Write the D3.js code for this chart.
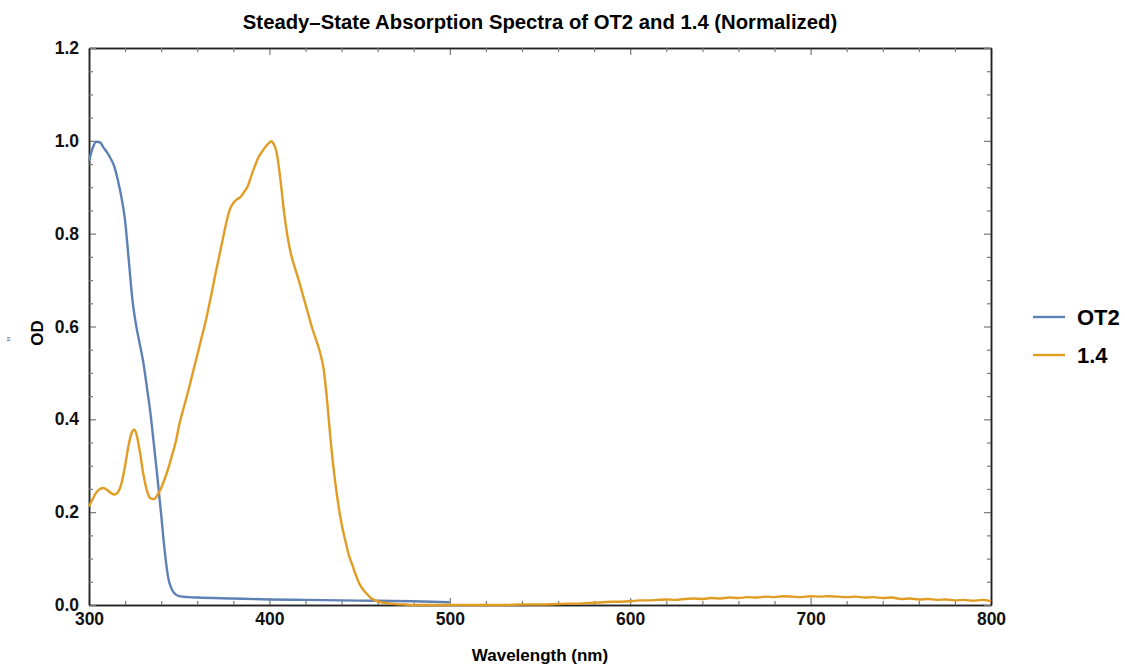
<!DOCTYPE html>
<html>
<head>
<meta charset="utf-8">
<script src="https://cdn.jsdelivr.net/npm/d3@7"></script>
<style>
  body { margin: 0; background: #fff; }
  svg { font-family: 'Liberation Sans', Arial, sans-serif; }
</style>
</head>
<body>
<div id="chart-area"></div>
<script>
// OT2 spectrum (nm, normalized OD)
const ot2Wavelength = [300, 302, 304, 306, 308, 310, 312, 314, 316, 318, 320, 322, 324, 326, 328, 330,
  332, 334, 336, 338, 340, 342, 344, 346, 348, 350, 355, 360, 380, 400, 420, 440, 460, 480, 500];
const ot2OD = [0.956, 0.984, 0.998, 0.997, 0.986, 0.975, 0.962, 0.945, 0.915, 0.878, 0.828, 0.745, 0.66,
  0.605, 0.565, 0.525, 0.472, 0.415, 0.345, 0.272, 0.195, 0.115, 0.057, 0.033, 0.023, 0.019, 0.017,
  0.016, 0.014, 0.012, 0.011, 0.010, 0.009, 0.008, 0.006];

// 1.4 spectrum (nm, normalized OD)
const c14Wavelength = [300, 302, 304, 306, 308, 310, 312, 314, 316, 318, 320, 322, 324, 325, 326, 328,
  330, 332, 334, 336, 338, 340, 342, 344, 346, 348, 350, 352, 354, 356, 358, 360, 362, 364, 366, 368,
  370, 372, 374, 376, 378, 380, 382, 384, 386, 388, 390, 392, 394, 396, 398, 400, 401, 402, 403, 404,
  406, 408, 410, 412, 414, 416, 418, 420, 422, 424, 426, 428, 430, 432, 434, 436, 438, 440, 442, 444,
  446, 448, 450, 452, 454, 456, 458, 460, 465, 470, 475, 480, 490, 500, 510, 520, 530, 540, 550, 560,
  565, 570, 575, 580, 585, 590, 595, 600, 605, 610, 615, 620, 625, 630, 635, 640, 645, 650, 655, 660,
  665, 670, 675, 680, 685, 690, 695, 700, 705, 710, 715, 720, 725, 730, 735, 740, 745, 750, 755, 760,
  765, 770, 775, 780, 785, 790, 795, 800];
const c14OD = [0.212, 0.228, 0.242, 0.250, 0.252, 0.248, 0.242, 0.238, 0.243, 0.262, 0.300, 0.345,
  0.374, 0.378, 0.372, 0.335, 0.285, 0.248, 0.230, 0.228, 0.237, 0.252, 0.272, 0.295, 0.322, 0.350,
  0.388, 0.418, 0.446, 0.476, 0.508, 0.538, 0.570, 0.600, 0.635, 0.672, 0.712, 0.748, 0.785, 0.822,
  0.852, 0.866, 0.874, 0.879, 0.890, 0.902, 0.925, 0.946, 0.965, 0.977, 0.988, 0.996, 0.999, 0.996,
  0.988, 0.975, 0.920, 0.850, 0.795, 0.755, 0.728, 0.703, 0.676, 0.648, 0.620, 0.593, 0.570, 0.545,
  0.510, 0.440, 0.352, 0.280, 0.222, 0.175, 0.140, 0.108, 0.086, 0.064, 0.045, 0.033, 0.024, 0.016,
  0.011, 0.008, 0.004, 0.002, 0.001, 0.000, 0.000, 0.000, 0.000, 0.000, 0.000, 0.001, 0.001, 0.002,
  0.003, 0.003, 0.004, 0.005, 0.006, 0.007, 0.007, 0.008, 0.010, 0.010, 0.011, 0.012, 0.011, 0.013,
  0.014, 0.013, 0.015, 0.014, 0.016, 0.015, 0.017, 0.016, 0.018, 0.017, 0.019, 0.018, 0.017, 0.019,
  0.018, 0.019, 0.018, 0.017, 0.018, 0.016, 0.017, 0.015, 0.016, 0.013, 0.014, 0.012, 0.013, 0.011,
  0.012, 0.010, 0.011, 0.009, 0.011, 0.008, 0.009, 0.006];

const xMajor = [300, 400, 500, 600, 700, 800];
const yMajor = [0.0, 0.2, 0.4, 0.6, 0.8, 1.0, 1.2];
const seriesNames = ['OT2', '1.4'];
const seriesColors = ['#5e81b5', '#e19c24'];

let width = 1125;
let height = 664;
let padding = { left: 89, right: 134, top: 48, bottom: 59 };

let xScale = d3.scaleLinear().domain([300, 800]).range([padding.left, width - padding.right]);
let yScale = d3.scaleLinear().domain([0, 1.2]).range([height - padding.bottom, padding.top]);

let xMinor = d3.range(300, 801, 20).filter((d) => d % 100 !== 0);
let yMinor = d3.range(0, 25).map((i) => i * 0.05).filter((d, i) => i % 4 !== 0);

let chart = d3
  .select('#chart-area')
  .append('svg')
  .attr('width', width)
  .attr('height', height);

//title
chart
  .append('text')
  .attr('x', (padding.left + width - padding.right) / 2)
  .attr('y', 29)
  .style('text-anchor', 'middle')
  .style('font-weight', 'bold')
  .style('font-size', '20.3px')
  .text('Steady\u2013State Absorption Spectra of OT2 and 1.4 (Normalized)');

//axes: major ticks with labels on left/bottom, ticks only on top/right
let plotBottom = height - padding.bottom;
let plotRight = width - padding.right;

function styleAxis(g) {
  g.select('.domain').attr('stroke', '#222').attr('stroke-width', 1.5);
  g.selectAll('.tick line').attr('stroke', '#777').attr('stroke-width', 1.2);
  g.selectAll('.tick text')
    .attr('fill', '#111')
    .style('font-weight', 'bold')
    .style('font-size', '17.5px')
    .style('font-family', "'Liberation Sans', Arial, sans-serif");
}

chart
  .append('g')
  .attr('transform', `translate(0, ${plotBottom})`)
  .call(d3.axisBottom(xScale).tickValues(xMajor).tickSize(-7).tickPadding(8).tickSizeOuter(0).tickFormat(d3.format('d')))
  .call(styleAxis);
chart
  .append('g')
  .attr('transform', `translate(0, ${plotBottom})`)
  .call(d3.axisBottom(xScale).tickValues(xMinor).tickSize(-4).tickSizeOuter(0).tickFormat(''))
  .call(styleAxis);
chart
  .append('g')
  .attr('transform', `translate(0, ${padding.top})`)
  .call(d3.axisTop(xScale).tickValues(xMajor).tickSize(-7).tickSizeOuter(0).tickFormat(''))
  .call(styleAxis);
chart
  .append('g')
  .attr('transform', `translate(0, ${padding.top})`)
  .call(d3.axisTop(xScale).tickValues(xMinor).tickSize(-4).tickSizeOuter(0).tickFormat(''))
  .call(styleAxis);

chart
  .append('g')
  .attr('transform', `translate(${padding.left}, 0)`)
  .call(d3.axisLeft(yScale).tickValues(yMajor).tickSize(-7).tickPadding(10).tickSizeOuter(0).tickFormat(d3.format('.1f')))
  .call(styleAxis);
chart
  .append('g')
  .attr('transform', `translate(${padding.left}, 0)`)
  .call(d3.axisLeft(yScale).tickValues(yMinor).tickSize(-4).tickSizeOuter(0).tickFormat(''))
  .call(styleAxis);
chart
  .append('g')
  .attr('transform', `translate(${plotRight}, 0)`)
  .call(d3.axisRight(yScale).tickValues(yMajor).tickSize(-7).tickSizeOuter(0).tickFormat(''))
  .call(styleAxis);
chart
  .append('g')
  .attr('transform', `translate(${plotRight}, 0)`)
  .call(d3.axisRight(yScale).tickValues(yMinor).tickSize(-4).tickSizeOuter(0).tickFormat(''))
  .call(styleAxis);

//axis labels
chart
  .append('text')
  .attr('x', (padding.left + plotRight) / 2)
  .attr('y', 661)
  .style('text-anchor', 'middle')
  .style('font-weight', 'bold')
  .style('font-size', '17px')
  .text('Wavelength (nm)');
chart
  .append('text')
  .attr('transform', `translate(43, 333) rotate(-90)`)
  .style('text-anchor', 'middle')
  .style('font-weight', 'bold')
  .style('font-size', '17px')
  .text('OD');
chart
  .append('text')
  .attr('transform', `translate(17, 339) rotate(-90)`)
  .style('text-anchor', 'middle')
  .style('font-size', '14px')
  .attr('fill', '#6b80b3')
  .text('"');

//spectra
let line = d3
  .line()
  .x((d) => xScale(d[0]))
  .y((d) => yScale(d[1]))
  .curve(d3.curveMonotoneX);

let seriesData = [
  d3.zip(ot2Wavelength, ot2OD),
  d3.zip(c14Wavelength, c14OD),
];

chart
  .append('g')
  .attr('id', 'plot-area')
  .selectAll('path')
  .data(seriesData)
  .enter()
  .append('path')
  .attr('d', line)
  .attr('fill', 'none')
  .attr('stroke', (d, i) => seriesColors[i])
  .attr('stroke-width', 2.4)
  .attr('stroke-linejoin', 'round');

//legend
let legend = chart.append('g').attr('id', 'legend');
let legendItem = legend
  .selectAll('g')
  .data(seriesNames)
  .enter()
  .append('g')
  .attr('transform', (d, i) => `translate(1033, ${317 + i * 38})`);
legendItem
  .append('line')
  .attr('x1', 0)
  .attr('x2', 32)
  .attr('stroke', (d, i) => seriesColors[i])
  .attr('stroke-width', 2.4);
legendItem
  .append('text')
  .attr('x', 44)
  .attr('y', 8)
  .style('font-weight', 'bold')
  .style('font-size', '22px')
  .text((d) => d);
</script>
</body>
</html>
